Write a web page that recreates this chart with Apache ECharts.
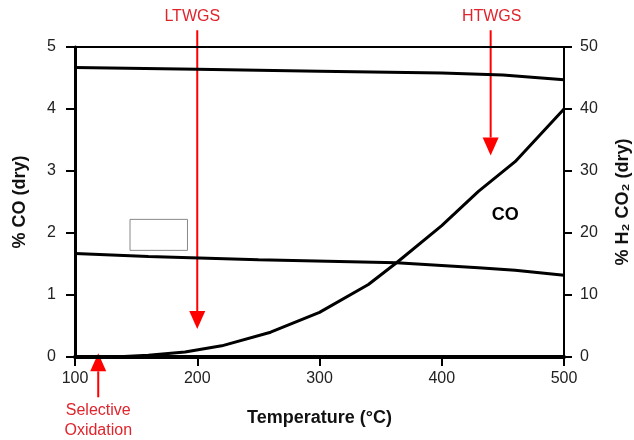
<!DOCTYPE html>
<html>
<head>
<meta charset="utf-8">
<script src="https://cdn.jsdelivr.net/npm/echarts@6/dist/echarts.min.js"></script>
<style>
  html, body { margin: 0; padding: 0; background: #fff; }
  #main { width: 634px; height: 440px; }
</style>
</head>
<body>
<div id="main"></div>
<script>
// temperatures (deg C) and values
var tempH2 = [100, 200, 300, 400, 450, 500];
var h2 = [46.7, 46.4, 46.1, 45.8, 45.5, 44.7];          // % H2 (dry), right axis

var tempCO2 = [100, 160, 250, 363, 430, 460, 500];
var co2 = [16.7, 16.2, 15.7, 15.2, 14.4, 14.0, 13.2];    // % CO2 (dry), right axis

var tempCO = [100, 140, 160, 190, 220, 260, 300, 340, 363, 400, 430, 460, 500];
var co = [0, 0.01, 0.03, 0.08, 0.18, 0.4, 0.72, 1.17, 1.52, 2.12, 2.67, 3.15, 4.0]; // % CO (dry), left axis

var xTicks = [100, 200, 300, 400, 500];

// annotation arrows in data units (temperature, % CO)
var arrowNames = ['LTWGS', 'HTWGS', 'Selective\nOxidation'];
var arrowTemp = [200, 440, 119];
var arrowFrom = [5.27, 5.27, -0.65];
var arrowTo = [0.45, 3.25, 0.06];

function pairs(xs, ys) {
    var out = [];
    for (var i = 0; i < xs.length; i++) out.push([xs[i], ys[i]]);
    return out;
}

var myChart = echarts.init(document.getElementById('main'));
var fontFam = 'Liberation Sans, Arial, sans-serif';

var option = {
    animation: false,
    grid: { left: 75, right: 70, top: 47, bottom: 83, outerBoundsMode: 'none', containLabel: false },
    xAxis: [{
        type: 'value', min: 100, max: 500, interval: 100,
        name: 'Temperature (\u00B0C)', nameLocation: 'middle', nameGap: 52,
        nameTextStyle: { fontSize: 18, fontWeight: 'bold', color: '#111', fontFamily: fontFam },
        axisLine: { lineStyle: { color: '#000', width: 4 } },
        axisTick: { length: 9, lineStyle: { color: '#000', width: 2 } },
        axisLabel: { fontSize: 16, color: '#222', margin: 14, fontFamily: fontFam },
        splitLine: { show: false }
    }, {
        type: 'value', min: 100, max: 500, position: 'top',
        axisLine: { show: true, onZero: false, lineStyle: { color: '#000', width: 2 } },
        axisTick: { show: false }, axisLabel: { show: false }, splitLine: { show: false }
    }],
    yAxis: [{
        type: 'value', min: 0, max: 5, interval: 1,
        name: '% CO (dry)', nameLocation: 'middle', nameGap: 46, nameRotate: 90,
        nameTextStyle: { fontSize: 18, fontWeight: 'bold', color: '#111', fontFamily: fontFam },
        axisLine: { show: true, lineStyle: { color: '#000', width: 3 } },
        axisTick: { show: true, length: 9, lineStyle: { color: '#000', width: 2 } },
        axisLabel: { fontSize: 16, color: '#222', margin: 19, fontFamily: fontFam },
        splitLine: { show: false }
    }, {
        type: 'value', min: 0, max: 50, interval: 10, position: 'right',
        name: '% H\u2082 CO\u2082 (dry)', nameLocation: 'middle', nameGap: 50, nameRotate: 90,
        nameTextStyle: { fontSize: 18, fontWeight: 'bold', color: '#111', fontFamily: fontFam },
        axisLine: { show: true, lineStyle: { color: '#000', width: 2 } },
        axisTick: { show: true, length: 8, lineStyle: { color: '#000', width: 2 } },
        axisLabel: { fontSize: 16, color: '#222', margin: 16, fontFamily: fontFam },
        splitLine: { show: false }
    }],
    series: [{
        name: 'H2', type: 'line', yAxisIndex: 1, data: pairs(tempH2, h2),
        symbol: 'none', lineStyle: { color: '#000', width: 3 }
    }, {
        name: 'CO2', type: 'line', yAxisIndex: 1, data: pairs(tempCO2, co2),
        symbol: 'none', lineStyle: { color: '#000', width: 3 }
    }, {
        name: 'CO', type: 'line', yAxisIndex: 0, data: pairs(tempCO, co),
        symbol: 'none', lineStyle: { color: '#000', width: 3 },
        markArea: {
            silent: true,
            itemStyle: { color: 'rgba(0,0,0,0)', borderColor: '#888', borderWidth: 1 },
            data: [[{ coord: [145, 2.22] }, { coord: [192, 1.72] }]]
        }
    }]
};
myChart.setOption(option);

// arrows and the text labels, placed from data coordinates
var graphics = [];
for (var i = 0; i < arrowNames.length; i++) {
    var p0 = myChart.convertToPixel({ xAxisIndex: 0, yAxisIndex: 0 }, [arrowTemp[i], arrowFrom[i]]);
    var p1 = myChart.convertToPixel({ xAxisIndex: 0, yAxisIndex: 0 }, [arrowTemp[i], arrowTo[i]]);
    var dir = p1[1] > p0[1] ? 1 : -1;
    var headLen = 18, headHalf = 8;
    graphics.push({
        type: 'line', silent: true,
        shape: { x1: p0[0], y1: p0[1], x2: p1[0], y2: p1[1] - dir * headLen },
        style: { stroke: '#f00', lineWidth: 2 }
    });
    graphics.push({
        type: 'polygon', silent: true,
        shape: { points: [[p1[0], p1[1]], [p1[0] - headHalf, p1[1] - dir * headLen], [p1[0] + headHalf, p1[1] - dir * headLen]] },
        style: { fill: '#f00' }
    });
    graphics.push({
        type: 'text', silent: true,
        x: p0[0] - (i == 0 ? 5 : (i == 1 ? -1 : 0)), y: dir > 0 ? p0[1] - 4 : p0[1] + 3,
        style: {
            text: arrowNames[i], fill: '#e0242c', fontSize: 16, fontFamily: fontFam,
            align: 'center', verticalAlign: dir > 0 ? 'bottom' : 'top', lineHeight: 20
        }
    });
}
var lp = myChart.convertToPixel({ xAxisIndex: 0, yAxisIndex: 0 }, [452, 2.29]);
graphics.push({
    type: 'text', silent: true, x: lp[0], y: lp[1],
    style: { text: 'CO', fill: '#000', fontSize: 18, fontWeight: 'bold', fontFamily: fontFam, align: 'center', verticalAlign: 'middle' }
});
myChart.setOption({ graphic: graphics });
</script>
</body>
</html>
